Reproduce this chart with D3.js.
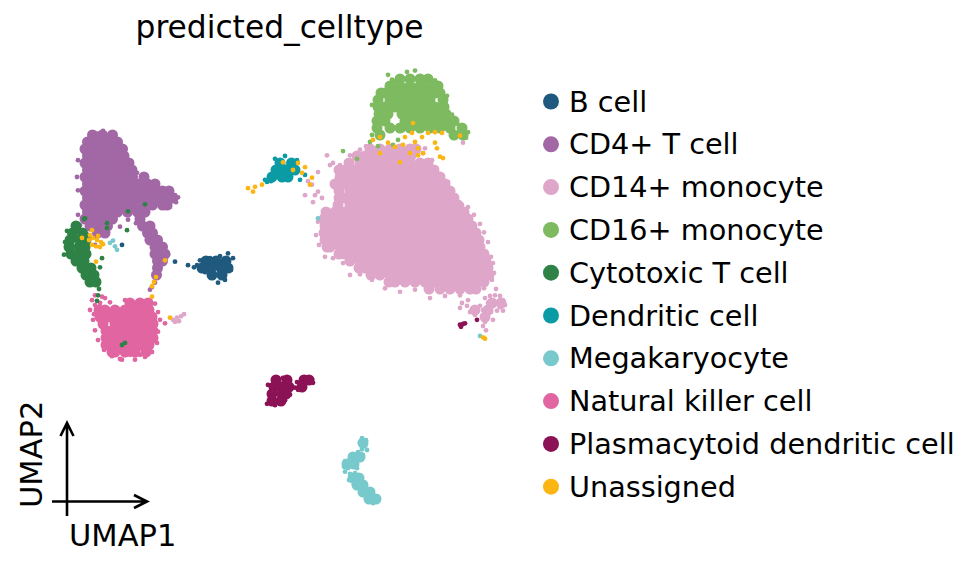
<!DOCTYPE html>
<html><head><meta charset="utf-8">
<script src="https://cdn.jsdelivr.net/npm/d3@7"></script>
<style>body{margin:0;background:#fff}svg{display:block}text{font-family:"DejaVu Sans",sans-serif;fill:#000}</style>
</head><body><svg id="c" width="970" height="568"></svg>
<script>
// ---- data (UMAP coordinates) ----
const title = "predicted_celltype";
const categories = ["B cell","CD4+ T cell","CD14+ monocyte","CD16+ monocyte","Cytotoxic T cell","Dendritic cell","Megakaryocyte","Natural killer cell","Plasmacytoid dendritic cell","Unassigned"];
const palette = ["#1f5a7e","#a267a5","#dea6c8","#7dba60","#2e8246","#0b9ba4","#77c9cc","#e065a1","#8c1256","#fbb614"];
const axisLabels = ["UMAP1","UMAP2"];

// dense regions: rows of [UMAP2, [UMAP1 ...]]
const bCellDense = [[37,[31.2,33.2,35.2]],[36,[30.4,32.2,34.2,35.6]],[35,[32.4,34.4]]];
const bCellCells = [[29.4,36.4],[30,37.1],[32,37.4],[34,37.7],[35.6,38.1],[36.6,37.4],[36.2,35.7],[35,34.3],[33.6,33.9],[32.6,34.6],[31,35.4],[25,36.9],[27.6,36.4],[28.8,36.1],[14.4,39.3]];

const cd4Dense = [[55,[8.5,10.5,12.5]],[54,[7.5,9.5,11.5,13.5]],[53,[7,8.5,10.5,12.5,14.5]],[52,[7.5,9.5,11.5,13.5,14.8]],[51,[7,8.5,10.5,12.5,14.5,15.8]],[50,[7.5,9.5,11.5,13.5,15.5,16.4]],[49,[7,8.5,10.5,12.5,14.5,16.5,18.8]],[48,[7.5,9.5,11.5,13.5,15.5,17.5,19.5,21]],[47,[7,8.5,10.5,12.5,14.5,16.5,18.5,20.5,22.5,23.8]],[46,[7.5,9.5,11.5,13.5,15.5,17.5,19.5,21.5,23.5,24.6]],[45,[7,8.5,10.5,12.5,14.5,16.5,18.5,20.5,22.5,23.4]],[44,[7.5,9.5,11.5,13.5,15.5,17.5,19]],[43,[7,8.5,10.5,12.5,18]],[42,[8,9.5,11.5,18.5,20]],[41,[9.5,11,19.5,20.5]],[40,[20,21.5]],[39,[21,22.5]],[38,[21,23]],[37,[21.5,22.5]],[36,[21.5]],[35,[21.3]]];
const cd4Cells = [[10.6,55.6],[9.4,55.2],[13,54.4],[15,53.1],[5.6,51.4],[16,51],[17.4,49.6],[5.4,49],[5.6,47.1],[20,48.1],[22,47.3],[23.4,46.7],[25,46.4],[25.6,46.1],[25.2,45.4],[24,44.7],[22,44.9],[19,44.3],[5.6,43.6],[15.6,42.9],[17.2,42.4],[14,41.9],[9,39.3],[19.4,40],[20.4,33.3],[21,33.9],[20,32.9],[22.4,37.4],[23.6,37.9],[6,42.1],[7.4,40.8]];

const cd14Dense = [[53,[64,66,68,70,72,73.2]],[52,[61.4,63,65,67,69,71,72.2]],[51,[59.8,62,64,66,68,70,72,74,75.6]],[50,[57.8,59,61,63,65,67,69,71,73,75,76.8]],[49,[58,60,62,64,66,68,70,72,74,76,78]],[48,[57,59,61,63,65,67,69,71,73,75,77,79]],[47,[57.8,60,62,64,66,68,70,72,74,76,78,80]],[46,[57.8,59,61,63,65,67,69,71,73,75,77,79,80.8]],[45,[57.6,60,62,64,66,68,70,72,74,76,78,80,81.6]],[44,[55.2,57,59,61,63,65,67,69,71,73,75,77,79,81,82.8]],[43,[54.8,56,58,60,62,64,66,68,70,72,74,76,78,80,82,83.6]],[42,[55,57,59,61,63,65,67,69,71,73,75,77,79,81,83,84.4]],[41,[54.8,56,58,60,62,64,66,68,70,72,74,76,78,80,82,84,85.2]],[40,[55,57,59,61,63,65,67,69,71,73,75,77,79,81,83,85,85.8]],[39,[55.4,56,58,60,62,64,66,68,70,72,74,76,78,80,82,84,86]],[38,[57.8,59,61,63,65,67,69,71,73,75,77,79,81,83,85,86.8]],[37,[60,62,64,66,68,70,72,74,76,78,80,82,84,86,87.2]],[36,[61.8,63,65,67,69,71,73,75,77,79,81,83,85,87,87.6]],[35,[64.2,66,68,70,72,74,76,78,80,82,84,86,87.8]],[34,[67.8,69,71,73,75,77,79,81,83,85,86.8]],[33,[75.8,78,80,82,84,85.2]],[31,[88.4,90.2]],[30,[85,87.6]],[29,[87]]];
const cd14Cells = [[55.4,52.1],[56.6,51],[58,50.7],[56,50.7],[53.6,49.7],[51.6,48.4],[52.4,47.9],[53.6,46.9],[51,46.4],[53,46.4],[54.4,46],[52.6,45.4],[54.6,43.6],[53.6,42.6],[53.2,40.7],[53.8,39.3],[55,37.6],[56.6,37.4],[58.6,36.7],[60,35],[62,35.1],[64.4,34.3],[67,33.1],[70,32.6],[73,32.9],[76,31.7],[79,32],[82,32.1],[84,33.1],[85.6,33.7],[87,33.9],[88.4,34.3],[88.8,35.3],[88.6,36.7],[88.2,37.6],[87.6,39.7],[86.8,41.1],[86,42.3],[84.8,43.6],[83.6,44.7],[82.4,45],[81,46.1],[79.6,48.3],[78.2,49.3],[77.2,50.3],[76.4,51.4],[74.6,52.4],[82.6,53.9],[62,52.9],[60,52.1],[75,53.1],[63.2,53.4],[72.4,53.3],
  [82.4,31],[83.4,30.6],[84.4,30.1],[85.4,29.7],[86,30.6],[87,31.7],[88,32],[89,32.1],[90,32],[90.6,31.4],[91,30.7],[90,30.4],[89,31],[87.6,31],[86.6,30],[86.8,29.1],[87,28.3],[86.6,27.7],[87.2,27.1],[83.6,31.4],[84,29.7],[85,29.3],[82,30.3],[88.2,29.7],[89.4,29.9],[88.6,28.6],[90.6,29.9],[86.8,33.1],[89.2,33],[80.4,33.9],[81.4,33.4],[79.4,33.1],
  [24.6,28.6],[25.4,28.9],[26.2,29.1],[26.8,29.4],[25.8,28.4],[25,28.3]];

const cd16Dense = [[63,[70,72,74,75.6]],[62,[68,70,72,74,76,77.6]],[61,[66.2,67,69,71,73,75,77,78]],[60,[65.6,68,70,72,74,76,78.6]],[59,[65.6,67,69,71,73,75,77,78.8]],[58,[65.8,67.6,70.4,72,74,76,78,79.2]],[57,[65.4,67,71,73,75,77,79,80.8]],[56,[65.4,68,70,72,74,76,78,80,82.4]],[55,[66,80.8,82.6]]];
const cd16Cells = [[71.4,64],[69,62.7],[68.4,62.9],[77,62.8],[75,63],[78,62.1],[66,60.7],[79.4,60.6],[64.4,59.3],[80.4,57.9],[81.4,56.7],[82.6,55.9],[83.6,55.4],[83.2,54.6],[64.4,55],[64,54],[65.6,53.4],[68.6,53.6],[69.6,54.3],[70.6,55.7],[58.6,52.7],[61.4,51.6],[67.6,63.6],[73,64.2]];

const cytotoxicDense = [[42,[5.2]],[41,[4.5,6.5]],[40,[4,6,7.2]],[39,[3.8,5.8,7]],[38,[4.2,6.2,7.2]],[37,[5.2,6.8]],[36,[6.4,8.2]],[35,[7.2,8.8]],[34,[8,9.2]]];
const cytotoxicCells = [[5.4,42.1],[7,43.1],[3,39.7],[2.8,37.9],[10,36.1],[9.6,32.1],[9.4,31.3],[11.4,41.7],[15.4,41.4],[15.6,44.1],[19,45.1],[11.4,42.4],[6.8,43],[9.6,34.3],[3.4,41.3],[14.4,25],[15,25.3],[10.4,37.4],[9.8,33]];

const dendriticDense = [[51,[46,48.3]],[50,[45.2,47.2,49]],[49,[44.4,46.4,47.6]]];
const dendriticCells = [[44.2,48.4],[43,48.6],[50,48.6],[49.4,51.4],[51,49.3],[45,51.6],[47,52],[43.4,48.3]];

const megakaryocyteDense = [[11,[62.6]],[9,[60.6,62]],[8,[59.4,60.8]],[6,[60.6,61.8]],[5,[61.4,62.6]],[4,[62.6,64]],[3,[63.8,65.2]]];
const megakaryocyteCells = [[62.4,11.7],[63.2,11.4],[62,11],[63,10.6],[62.4,10.1],[63.4,10],[61.6,9.7],[62.6,9.3],[61,9.1],[60,8.7],[59,8.4],[59.8,8.1],[58.8,7.6],[59.6,7.4],[60.4,7.7],[61.2,8.1],[61.4,7.4],[59,6.9],[60,6.6],[61,6.7],[60.4,6],[61.2,5.9],[62,6.3],[59.8,5.7],[60.8,5.1],[61.6,4.9],[62.4,5.3],[62,4.3],[63,4.6],[63.6,3.9],[62.6,3.6],[64.4,3.7],[65,3.1],[64,2.9],[65.6,3.3],[63.2,3],[64.6,2.4],[12,39.6],[13,39.1],[13.4,38.6],[12.6,39.9],[53.6,43.1],[86,26.3]];

const nkDense = [[31,[16,18,19.6]],[30,[9.8,11,13,15,17,19,19.8]],[29,[10,12,14,16,18,20,20.4]],[28,[10.6,13,15,17,19,20.6]],[27,[11.2,12.2,14,16,18,20,20.6]],[26,[11.2,13,15,17,19,20.6]],[25,[11.2,12,14,16,18,19.8]],[24,[12.4,13,15,17,19.2]]];
const nkCells = [[8.4,31.4],[9,30.7],[8,30],[10,31],[12,31.1],[15,31.4],[18,31.1],[20,31.4],[21,30.9],[21.6,29.7],[22,28.6],[21.6,26.9],[21.4,25.3],[20.4,24],[19,23.3],[17,22.9],[14.4,22.9],[12.4,23.4],[10.8,24.3],[9.6,25.7],[9,27.1],[8.6,28.6],[9.4,29.7],[9,32.1],[23,28.1],[10.4,31.9],[16,23.6],[18,23.6],[11,31.7],[14,23],[8.8,29.4]];

const pdcDense = [[20,[45.2,47.4,50.8,51.8]],[19,[44.8,46.4,47.8,50.4]],[18,[44.4,46.4,47.2]],[17,[44.4,46.2]]];
const pdcCells = [[43.4,16.6],[45,16.4],[47,17.1],[48,17.9],[49,18.9],[49.4,19.7],[46.6,20.3],[45,20.3],[51,20.4],[52.4,20.1],[52.6,19.6],[50.6,18.7],[49.6,18.6],[43.6,19.3],[82,27.9],[82.6,28],[83,28.1],[82.2,27.6],[85.4,28.6]];

const unassignedDense = [];
const unassignedCells = [[7.8,40],[8.6,40.3],[9.4,40],[10.2,39.7],[8.4,39.3],[9.2,39.1],[10,39],[10.6,39.4],[8,40.7],[9.6,40.6],[9.2,36.9],[6.4,40.3],[8.4,41.4],[23,37.1],[21.2,34.7],[20.8,34],[20.4,33.4],[20.4,31.9],[24,28.9],
  [39.6,47.4],[41,47.6],[42.4,47.9],[40.6,46.9],[49.6,51],[51,50.4],[50.4,49.6],[52.4,48.9],[52,47.9],[48.6,50],[46.6,51.1],
  [72.6,56.7],[72.4,55.3],[71,54.7],[66,54.7],[64.6,54.3],[67.6,53.9],[69,53.3],[70.6,53.6],[73,54],[74.4,54.7],[75.6,55.3],[77,55.4],[77,53.9],[77.4,53.1],[73.6,53.1],[74.6,52.4],[73.6,52.1],[78,51.9],[78.6,51.7],[70,51.1],[66,52.4],[82,54.9],[78.4,55.3],[72,52.4],
  [86.6,26.1],[87,25.9]];

// drawing order of categories (index into categories)
const drawOrder = [
  [2, cd14Dense, cd14Cells],[1, cd4Dense, cd4Cells],[7, nkDense, nkCells],[3, cd16Dense, cd16Cells],
  [0, bCellDense, bCellCells],[4, cytotoxicDense, cytotoxicCells],[5, dendriticDense, dendriticCells],
  [8, pdcDense, pdcCells],[6, megakaryocyteDense, megakaryocyteCells],[9, unassignedDense, unassignedCells]];

// ---- chart ----
const svg = d3.select("#c");
const x = d3.scaleLinear().domain([0, 92]).range([50, 510]);
const y = d3.scaleLinear().domain([0, 64]).range([520, 72]);
const color = d3.scaleOrdinal().domain(categories).range(palette);
const denseR = 5.5, cellR = 2.4;

const plot = svg.append("g");
drawOrder.forEach(([ci, dense, cells]) => {
  const name = categories[ci];
  const g = plot.append("g").attr("fill", color(name));
  const densePts = dense.flatMap(([uy, xs]) => xs.map(ux => [ux, uy]));
  g.selectAll("circle.d").data(densePts).join("circle").attr("class","d")
    .attr("cx", d => x(d[0])).attr("cy", d => y(d[1])).attr("r", denseR);
  g.selectAll("circle.s").data(cells).join("circle").attr("class","s")
    .attr("cx", d => x(d[0])).attr("cy", d => y(d[1])).attr("r", cellR);
});

svg.append("text").attr("x", 279.5).attr("y", 38).attr("text-anchor","middle")
  .style("font-size","31.3px").text(title);

// small UMAP axis arrows
const ax = svg.append("g").attr("stroke","#000").attr("stroke-width",2.6).attr("fill","none");
ax.append("path").attr("d","M52,501.5H147M134,495L147,501.5L134,508");
ax.append("path").attr("d","M67,516V423M60.5,436L67,423L73.5,436");
svg.append("text").attr("x",69).attr("y",546).style("font-size","30.5px").text(axisLabels[0]);
svg.append("text").attr("transform","translate(41.5,508) rotate(-90)").style("font-size","30.5px").text(axisLabels[1]);

// legend
const leg = svg.append("g").selectAll("g").data(categories).join("g")
  .attr("transform", (d, i) => `translate(551,${101.5 + i * 42.8})`);
leg.append("circle").attr("r", 8).attr("fill", d => color(d));
leg.append("text").attr("x", 18).attr("y", 10).style("font-size","28.7px").text(d => d);
</script></body></html>
